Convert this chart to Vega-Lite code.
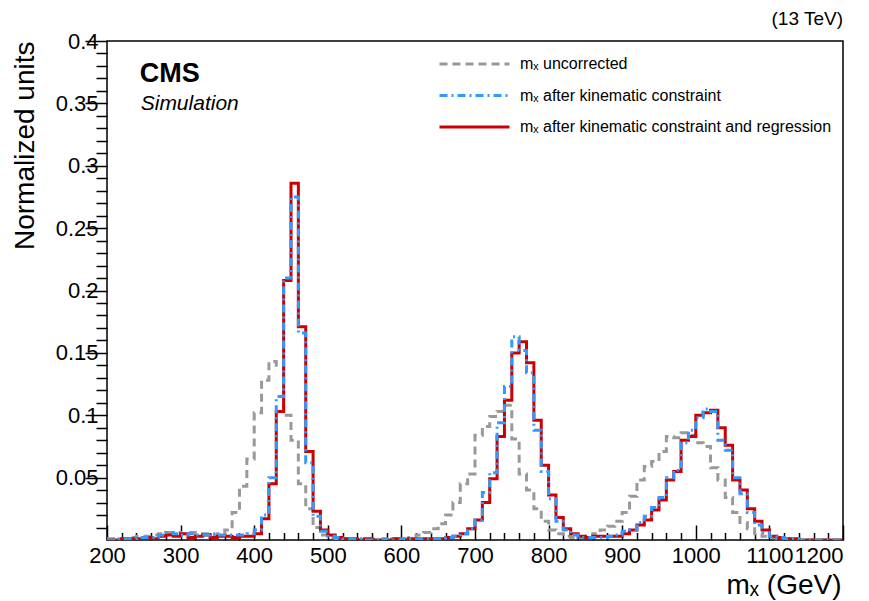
{
  "$schema": "https://vega.github.io/schema/vega-lite/v6.json",
  "width": 736,
  "height": 499,
  "autosize": "none",
  "padding": {"left": 107, "top": 41, "right": 26, "bottom": 61},
  "background": "white",
  "config": {
    "view": {"stroke": "black", "strokeWidth": 1.5},
    "font": "Liberation Sans",
    "axis": {"labelFont": "Liberation Sans", "titleFont": "Liberation Sans", "labelColor": "black", "titleColor": "black", "tickColor": "black", "tickWidth": 1.5, "domain": false, "grid": false, "labelOverlap": false, "labelFlush": false, "titleFontWeight": "normal"}
  },
  "data": {"values": [
    {"x":200,"u":0.001,"k":0.000,"r":0.000},
    {"x":210,"u":0.001,"k":0.001,"r":0.000},
    {"x":220,"u":0.001,"k":0.001,"r":0.001},
    {"x":230,"u":0.002,"k":0.001,"r":0.001},
    {"x":240,"u":0.003,"k":0.002,"r":0.001},
    {"x":250,"u":0.003,"k":0.002,"r":0.002},
    {"x":260,"u":0.004,"k":0.002,"r":0.001},
    {"x":270,"u":0.005,"k":0.004,"r":0.003},
    {"x":280,"u":0.006,"k":0.006,"r":0.004},
    {"x":290,"u":0.006,"k":0.005,"r":0.003},
    {"x":300,"u":0.005,"k":0.004,"r":0.005},
    {"x":310,"u":0.006,"k":0.005,"r":0.002},
    {"x":320,"u":0.005,"k":0.004,"r":0.003},
    {"x":330,"u":0.005,"k":0.004,"r":0.004},
    {"x":340,"u":0.004,"k":0.005,"r":0.002},
    {"x":350,"u":0.005,"k":0.004,"r":0.003},
    {"x":360,"u":0.008,"k":0.004,"r":0.003},
    {"x":370,"u":0.022,"k":0.004,"r":0.002},
    {"x":380,"u":0.043,"k":0.004,"r":0.003},
    {"x":390,"u":0.065,"k":0.005,"r":0.003},
    {"x":400,"u":0.102,"k":0.008,"r":0.005},
    {"x":410,"u":0.128,"k":0.020,"r":0.017},
    {"x":420,"u":0.143,"k":0.050,"r":0.045},
    {"x":430,"u":0.140,"k":0.115,"r":0.103},
    {"x":440,"u":0.100,"k":0.210,"r":0.208},
    {"x":450,"u":0.080,"k":0.275,"r":0.286},
    {"x":460,"u":0.045,"k":0.166,"r":0.171},
    {"x":470,"u":0.025,"k":0.062,"r":0.071},
    {"x":480,"u":0.010,"k":0.019,"r":0.023},
    {"x":490,"u":0.004,"k":0.007,"r":0.008},
    {"x":500,"u":0.002,"k":0.003,"r":0.004},
    {"x":510,"u":0.001,"k":0.002,"r":0.002},
    {"x":520,"u":0.001,"k":0.001,"r":0.001},
    {"x":530,"u":0.001,"k":0.001,"r":0.001},
    {"x":540,"u":0.000,"k":0.001,"r":0.000},
    {"x":550,"u":0.000,"k":0.000,"r":0.001},
    {"x":560,"u":0.001,"k":0.000,"r":0.000},
    {"x":570,"u":0.000,"k":0.001,"r":0.000},
    {"x":580,"u":0.001,"k":0.000,"r":0.000},
    {"x":590,"u":0.001,"k":0.000,"r":0.001},
    {"x":600,"u":0.001,"k":0.001,"r":0.000},
    {"x":610,"u":0.002,"k":0.001,"r":0.001},
    {"x":620,"u":0.004,"k":0.001,"r":0.001},
    {"x":630,"u":0.006,"k":0.001,"r":0.001},
    {"x":640,"u":0.009,"k":0.001,"r":0.001},
    {"x":650,"u":0.013,"k":0.001,"r":0.001},
    {"x":660,"u":0.020,"k":0.002,"r":0.002},
    {"x":670,"u":0.030,"k":0.003,"r":0.003},
    {"x":680,"u":0.045,"k":0.005,"r":0.005},
    {"x":690,"u":0.053,"k":0.009,"r":0.009},
    {"x":700,"u":0.084,"k":0.016,"r":0.016},
    {"x":710,"u":0.091,"k":0.038,"r":0.030},
    {"x":720,"u":0.099,"k":0.054,"r":0.049},
    {"x":730,"u":0.103,"k":0.094,"r":0.083},
    {"x":740,"u":0.108,"k":0.123,"r":0.112},
    {"x":750,"u":0.081,"k":0.163,"r":0.150},
    {"x":760,"u":0.053,"k":0.152,"r":0.159},
    {"x":770,"u":0.040,"k":0.134,"r":0.142},
    {"x":780,"u":0.025,"k":0.088,"r":0.096},
    {"x":790,"u":0.015,"k":0.055,"r":0.060},
    {"x":800,"u":0.008,"k":0.033,"r":0.036},
    {"x":810,"u":0.005,"k":0.015,"r":0.018},
    {"x":820,"u":0.003,"k":0.008,"r":0.009},
    {"x":830,"u":0.002,"k":0.004,"r":0.005},
    {"x":840,"u":0.002,"k":0.002,"r":0.003},
    {"x":850,"u":0.003,"k":0.002,"r":0.002},
    {"x":860,"u":0.005,"k":0.002,"r":0.003},
    {"x":870,"u":0.008,"k":0.002,"r":0.003},
    {"x":880,"u":0.011,"k":0.003,"r":0.003},
    {"x":890,"u":0.015,"k":0.004,"r":0.003},
    {"x":900,"u":0.022,"k":0.007,"r":0.005},
    {"x":910,"u":0.035,"k":0.008,"r":0.008},
    {"x":920,"u":0.048,"k":0.014,"r":0.012},
    {"x":930,"u":0.059,"k":0.019,"r":0.016},
    {"x":940,"u":0.063,"k":0.026,"r":0.024},
    {"x":950,"u":0.071,"k":0.034,"r":0.032},
    {"x":960,"u":0.083,"k":0.050,"r":0.048},
    {"x":970,"u":0.082,"k":0.056,"r":0.055},
    {"x":980,"u":0.086,"k":0.078,"r":0.080},
    {"x":990,"u":0.084,"k":0.088,"r":0.083},
    {"x":1000,"u":0.078,"k":0.098,"r":0.100},
    {"x":1010,"u":0.075,"k":0.105,"r":0.102},
    {"x":1020,"u":0.058,"k":0.103,"r":0.104},
    {"x":1030,"u":0.048,"k":0.080,"r":0.090},
    {"x":1040,"u":0.034,"k":0.072,"r":0.076},
    {"x":1050,"u":0.022,"k":0.050,"r":0.048},
    {"x":1060,"u":0.014,"k":0.037,"r":0.040},
    {"x":1070,"u":0.009,"k":0.022,"r":0.025},
    {"x":1080,"u":0.005,"k":0.012,"r":0.015},
    {"x":1090,"u":0.003,"k":0.006,"r":0.008},
    {"x":1100,"u":0.002,"k":0.003,"r":0.003},
    {"x":1110,"u":0.001,"k":0.002,"r":0.002},
    {"x":1120,"u":0.001,"k":0.001,"r":0.001},
    {"x":1130,"u":0.000,"k":0.001,"r":0.001},
    {"x":1140,"u":0.000,"k":0.000,"r":0.000},
    {"x":1150,"u":0.000,"k":0.000,"r":0.000},
    {"x":1160,"u":0.000,"k":0.000,"r":0.000},
    {"x":1170,"u":0.000,"k":0.000,"r":0.000},
    {"x":1180,"u":0.000,"k":0.000,"r":0.000},
    {"x":1190,"u":0.000,"k":0.000,"r":0.000},
    {"x":1200,"u":0.000,"k":0.000,"r":0.000}
  ]},
  "encoding": {
    "x": {"field": "x", "type": "quantitative", "scale": {"domain": [200, 1200], "nice": false, "zero": false},
      "axis": {
        "values": [200,220,240,260,280,300,320,340,360,380,400,420,440,460,480,500,520,540,560,580,600,620,640,660,680,700,720,740,760,780,800,820,840,860,880,900,920,940,960,980,1000,1020,1040,1060,1080,1100,1120,1140,1160,1180,1200],
        "format": "d",
        "tickSize": {"condition": {"test": "datum.value % 100 === 0", "value": -15}, "value": -7.5},
        "labelExpr": "datum.value % 100 === 0 ? datum.label : ''",
        "labelAlign": {"condition": {"test": "datum.value === 1200", "value": "right"}, "value": "center"},
        "labelFontSize": 22, "labelPadding": 20.5,
        "title": "mₓ (GeV)", "titleFontSize": 28, "titleAnchor": null, "titleAlign": "right", "titleBaseline": "alphabetic", "titleX": 734, "titleY": 53
      }},
    "y": {"field": "v", "type": "quantitative", "scale": {"domain": [0, 0.4], "nice": false},
      "axis": {
        "values": [0.01,0.02,0.03,0.04,0.05,0.06,0.07,0.08,0.09,0.1,0.11,0.12,0.13,0.14,0.15,0.16,0.17,0.18,0.19,0.2,0.21,0.22,0.23,0.24,0.25,0.26,0.27,0.28,0.29,0.3,0.31,0.32,0.33,0.34,0.35,0.36,0.37,0.38,0.39,0.4],
        "tickSize": {"condition": {"test": "round(datum.value*100) % 5 === 0", "value": 22}, "value": 11},
        "labelExpr": "round(datum.value*100) % 5 === 0 ? '' + datum.value : ''",
        "labelFontSize": 22, "labelPadding": -13,
        "title": "Normalized units", "titleFontSize": 28, "titleAnchor": null, "titleAngle": 270, "titleAlign": "right", "titleBaseline": "top", "titleX": -96, "titleY": 0
      }}
  },
  "layer": [
    {
      "transform": [{"fold": ["u", "k", "r"], "as": ["s", "v"]}],
      "encoding": {
        "color": {"field": "s", "type": "nominal", "scale": {"domain": ["u", "k", "r"], "range": ["#999999", "#3399ff", "#cc0000"]},
          "legend": {"orient": "none", "legendX": 331, "legendY": 12.5, "title": null, "labelFontSize": 16, "labelFont": "Liberation Sans", "labelColor": "black", "labelLimit": 600, "symbolType": "M-4,0H4", "symbolSize": 306.25, "symbolStrokeWidth": 3, "symbolOffset": 26, "labelOffset": 35, "rowPadding": 12.5,
            "labelExpr": "datum.label === 'u' ? 'mₓ uncorrected' : datum.label === 'k' ? 'mₓ after kinematic constraint' : 'mₓ after kinematic constraint and regression'"}},
        "strokeDash": {"field": "s", "type": "nominal", "scale": {"domain": ["u", "k", "r"], "range": [[8, 5], [8, 4, 2, 4], [1, 0]]},
          "legend": {"orient": "none", "legendX": 331, "legendY": 12.5, "title": null, "labelFontSize": 16, "labelFont": "Liberation Sans", "labelColor": "black", "labelLimit": 600, "symbolType": "M-4,0H4", "symbolSize": 306.25, "symbolStrokeWidth": 3, "symbolOffset": 26, "labelOffset": 35, "rowPadding": 12.5,
            "labelExpr": "datum.label === 'u' ? 'mₓ uncorrected' : datum.label === 'k' ? 'mₓ after kinematic constraint' : 'mₓ after kinematic constraint and regression'"}}
      },
      "layer": [
        {"transform": [{"filter": "datum.s === 'u'"}], "mark": {"type": "line", "interpolate": "step-after", "strokeWidth": 3, "clip": true}},
        {"transform": [{"filter": "datum.s === 'r'"}], "mark": {"type": "line", "interpolate": "step-after", "strokeWidth": 3, "clip": true}},
        {"transform": [{"filter": "datum.s === 'k'"}], "mark": {"type": "line", "interpolate": "step-after", "strokeWidth": 3, "clip": true}}
      ]
    },
    {
      "data": {"values": [{"x": 244.5, "v": 0.367, "t": "CMS"}]},
      "mark": {"type": "text", "align": "left", "baseline": "alphabetic", "fontSize": 27, "fontWeight": "bold", "font": "Liberation Sans", "color": "black"},
      "encoding": {"text": {"field": "t"}}
    },
    {
      "data": {"values": [{"x": 245.8, "v": 0.3447, "t": "Simulation"}]},
      "mark": {"type": "text", "align": "left", "baseline": "alphabetic", "fontSize": 21, "fontStyle": "italic", "font": "Liberation Sans", "color": "black"},
      "encoding": {"text": {"field": "t"}}
    },
    {
      "data": {"values": [{"x": 1200, "v": 0.4128, "t": "(13 TeV)"}]},
      "mark": {"type": "text", "align": "right", "baseline": "alphabetic", "fontSize": 19, "font": "Liberation Sans", "color": "black", "clip": false},
      "encoding": {"text": {"field": "t"}}
    }
  ]
}
